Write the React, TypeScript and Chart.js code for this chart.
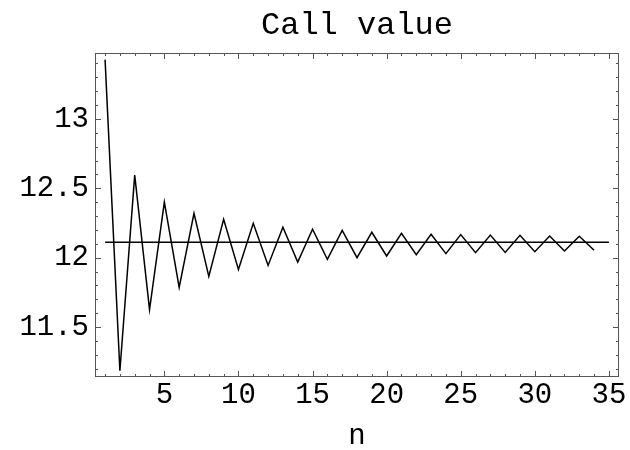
import React, { useEffect, useRef } from "react";
import { Chart, registerables } from "chart.js";

Chart.register(...registerables);

const nValues = [
  1, 2, 3, 4, 5, 6, 7, 8, 9, 10, 11, 12, 13, 14, 15, 16, 17, 18, 19, 20, 21, 22, 23, 24, 25, 26, 27, 28, 29, 30, 31, 32, 33, 34,
];
const callValues = [
  13.427, 11.185, 12.595, 11.626, 12.4, 11.785, 12.32, 11.865, 12.277, 11.915, 12.248, 11.944, 12.219, 11.968, 12.205,
  11.988, 12.197, 12.0, 12.183, 12.012, 12.176, 12.022, 12.168, 12.029, 12.166, 12.036, 12.163, 12.038, 12.161, 12.043,
  12.156, 12.048, 12.154, 12.053,
];
const limitX = [1, 35];
const limitValue = 12.112;
const xTicks = [5, 10, 15, 20, 25, 30, 35];
const yTicks = [11.5, 12, 12.5, 13];
const xRange = [0.32, 35.68];
const yRange = [11.14, 13.475];

const FONT = "'Liberation Mono', 'Courier New', monospace";

const framePlugin = {
  id: "frameTicks",
  afterDatasetsDraw(chart: any) {
    const { ctx, chartArea: a, scales } = chart;
    const xs = scales.x;
    const ys = scales.y;
    ctx.save();
    ctx.strokeStyle = "#555";
    ctx.lineWidth = 1;
    ctx.strokeRect(a.left + 0.5, a.top + 0.5, a.right - a.left - 1, a.bottom - a.top - 1);
    ctx.beginPath();
    for (let v = 1; v <= 35; v++) {
      const len = v % 5 === 0 ? 6 : 3;
      const px = Math.round(xs.getPixelForValue(v)) + 0.5;
      ctx.moveTo(px, a.bottom);
      ctx.lineTo(px, a.bottom - len);
      ctx.moveTo(px, a.top);
      ctx.lineTo(px, a.top + len);
    }
    for (let i = 112; i <= 135; i++) {
      const v = i / 10;
      const major = i % 5 === 0;
      const len = major ? 6 : 3;
      const py = Math.round(ys.getPixelForValue(v)) + 0.5;
      if (py < a.top || py > a.bottom) continue;
      ctx.moveTo(a.left, py);
      ctx.lineTo(a.left + len, py);
      ctx.moveTo(a.right, py);
      ctx.lineTo(a.right - len, py);
    }
    ctx.stroke();
    ctx.restore();
  },
};

export default function App() {
  const ref = useRef<HTMLCanvasElement | null>(null);
  useEffect(() => {
    if (!ref.current) return;
    const chart = new Chart(ref.current, {
      type: "line",
      data: {
        datasets: [
          {
            data: nValues.map((n, i) => ({ x: n, y: callValues[i] })),
            borderColor: "#000",
            borderWidth: 1.5,
            pointRadius: 0,
            tension: 0,
          },
          {
            data: limitX.map((x) => ({ x, y: limitValue })),
            borderColor: "#000",
            borderWidth: 1.5,
            pointRadius: 0,
          },
        ],
      },
      options: {
        animation: false,
        responsive: false,
        maintainAspectRatio: false,
        layout: { padding: { left: 0, right: 11, top: 0, bottom: 0 } },
        plugins: {
          legend: { display: false },
          tooltip: { enabled: false },
          title: {
            display: true,
            fullSize: false,
            text: "Call value",
            color: "#000",
            font: { family: FONT, size: 32, weight: "normal", lineHeight: 1.2 },
            padding: { top: 6, bottom: 8.6 },
          },
        },
        scales: {
          x: {
            type: "linear",
            min: xRange[0],
            max: xRange[1],
            afterBuildTicks: (s: any) => {
              s.ticks = xTicks.map((v) => ({ value: v }));
            },
            afterFit: (s: any) => {
              s.height = 73;
            },
            grid: { display: false, drawTicks: false },
            border: { display: false },
            ticks: {
              color: "#000",
              font: { family: FONT, size: 29, lineHeight: 1.2 },
              padding: 1,
              maxRotation: 0,
              callback: (v: any) => String(v),
            },
            title: {
              display: true,
              text: "n",
              color: "#000",
              font: { family: FONT, size: 29, lineHeight: 0.8 },
              padding: { top: 0, bottom: 2 },
            },
          },
          y: {
            type: "linear",
            min: yRange[0],
            max: yRange[1],
            afterBuildTicks: (s: any) => {
              s.ticks = yTicks.map((v) => ({ value: v }));
            },
            afterFit: (s: any) => {
              s.width = 95;
            },
            grid: { display: false, drawTicks: false },
            border: { display: false },
            ticks: {
              color: "#000",
              font: { family: FONT, size: 29 },
              padding: 6,
              callback: (v: any) => String(v),
            },
          },
        },
      },
      plugins: [framePlugin],
    } as any);
    return () => chart.destroy();
  }, []);
  return (
    <div style={{ position: "fixed", left: 0, top: 0, width: 630, height: 450, background: "#fff" }}>
      <canvas ref={ref} width={630} height={450} style={{ width: 630, height: 450 }} />
    </div>
  );
}
